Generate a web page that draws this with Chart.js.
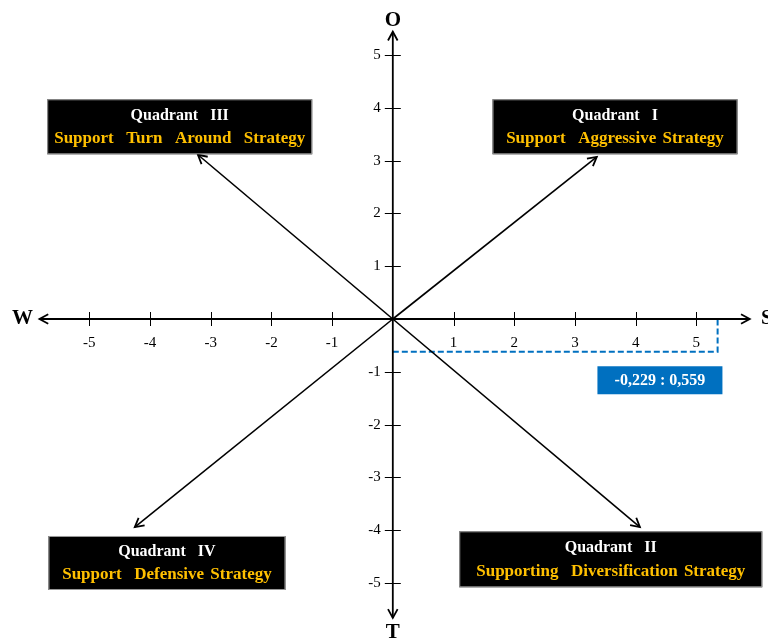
<!DOCTYPE html>
<html>
<head>
<meta charset="utf-8">
<script src="https://cdn.jsdelivr.net/npm/chart.js@4.4.1/dist/chart.umd.min.js"></script>
<style>
  body { margin: 0; background: #fff; }
  canvas { display: block; }
</style>
</head>
<body>
<canvas id="myChart" width="768" height="638"></canvas>
<script>
// axis ticks
const xTickValues = [-5, -4, -3, -2, -1, 1, 2, 3, 4, 5];
const xTickLabels = ['-5', '-4', '-3', '-2', '-1', '1', '2', '3', '4', '5'];
const yTickValues = [-5, -4, -3, -2, -1, 1, 2, 3, 4, 5];
const yTickLabels = ['-5', '-4', '-3', '-2', '-1', '1', '2', '3', '4', '5'];

// axis extents and letters (W S / T O)
const axisX = [-5.82, 5.88];
const axisY = [-5.66, 5.44];
const axisLetters = ['W', 'S', 'T', 'O'];

// diagonal arrows: Quadrant I, III, IV, II
const arrowX = [3.36, -3.21, -4.25, 4.07];
const arrowY = [3.07, 3.11, -3.94, -3.94];

// position marker (dashed)
const markerX = [0, 5.35, 5.35];
const markerY = [-0.62, -0.62, 0];
const markerText = '-0,229 : 0,559';

const quadrantTitles = ['Quadrant  I', 'Quadrant  III', 'Quadrant  IV', 'Quadrant  II'];
const quadrantStrategies = [
  'Support  Aggressive Strategy',
  'Support  Turn  Around  Strategy',
  'Support  Defensive Strategy',
  'Supporting  Diversification Strategy'
];

function line(xs, ys, extra) {
  return Object.assign({
    data: xs.map(function(x, i) { return {x: x, y: ys[i]}; }),
    showLine: true,
    borderColor: '#000',
    borderWidth: 1.6,
    pointRadius: 0,
    fill: false,
    clip: false
  }, extra);
}

const datasets = [
  line(axisX, [0, 0], {arrowStart: true, arrowEnd: true, borderWidth: 1.8}),
  line([0, 0], [axisY[1], axisY[0]], {arrowStart: true, arrowEnd: true, borderWidth: 1.8})
];
arrowX.forEach(function(x, i) {
  datasets.push(line([0, x], [0, arrowY[i]], {arrowEnd: true}));
});
datasets.push(line(markerX, markerY, {borderColor: '#0070C0', borderWidth: 2, borderDash: [6, 3]}));

function arrowHead(c, from, to, color) {
  const a = Math.atan2(to.y - from.y, to.x - from.x);
  const len = 10;
  c.save();
  c.strokeStyle = color;
  c.lineWidth = 1.8;
  c.beginPath();
  c.moveTo(to.x - len * Math.cos(a - 0.5), to.y - len * Math.sin(a - 0.5));
  c.lineTo(to.x, to.y);
  c.lineTo(to.x - len * Math.cos(a + 0.5), to.y - len * Math.sin(a + 0.5));
  c.stroke();
  c.restore();
}

const decorations = {
  id: 'decorations',
  afterDatasetsDraw: function(chart, args, opts) {
    const c = chart.ctx;
    const xs = chart.scales.x, ys = chart.scales.y;

    // arrow heads
    chart.data.datasets.forEach(function(ds, i) {
      const pts = chart.getDatasetMeta(i).data;
      if (ds.arrowEnd) arrowHead(c, pts[pts.length - 2], pts[pts.length - 1], ds.borderColor);
      if (ds.arrowStart) arrowHead(c, pts[1], pts[0], ds.borderColor);
    });

    // tick marks crossing the axes
    const x0 = xs.getPixelForValue(0), y0 = ys.getPixelForValue(0);
    c.save();
    c.strokeStyle = '#000';
    c.lineWidth = 1;
    c.beginPath();
    xTickValues.forEach(function(v) {
      const px = Math.round(xs.getPixelForValue(v)) + 0.5;
      c.moveTo(px, y0 - 7); c.lineTo(px, y0 + 7);
    });
    yTickValues.forEach(function(v) {
      const py = Math.round(ys.getPixelForValue(v)) + 0.5;
      c.moveTo(x0 - 8, py); c.lineTo(x0 + 8, py);
    });
    c.stroke();

    // axis letters
    c.fillStyle = '#000';
    c.font = 'bold 21px "Liberation Serif"';
    c.textAlign = 'center';
    c.textBaseline = 'middle';
    opts.letters.forEach(function(l, i) {
      c.fillText(axisLetters[i], xs.getPixelForValue(l.x), ys.getPixelForValue(l.y));
    });

    // quadrant boxes
    c.wordSpacing = '2px';
    opts.boxes.forEach(function(b, i) {
      const cx = xs.getPixelForValue(b.x), cy = ys.getPixelForValue(b.y);
      c.fillStyle = '#000';
      c.fillRect(cx - b.w / 2, cy - b.h / 2, b.w, b.h);
      c.strokeStyle = '#9a9a9a';
      c.lineWidth = 1;
      c.strokeRect(cx - b.w / 2 + 0.5, cy - b.h / 2 + 0.5, b.w - 1, b.h - 1);
      c.font = 'bold 16px "Liberation Serif"';
      c.fillStyle = '#ffffff';
      c.fillText(quadrantTitles[i], cx, cy - 11);
      c.font = 'bold 17px "Liberation Serif"';
      c.fillStyle = '#FFC000';
      c.fillText(quadrantStrategies[i], cx, cy + 12);
    });

    // marker value label
    const m = opts.marker;
    const mx = xs.getPixelForValue(m.x), my = ys.getPixelForValue(m.y);
    c.wordSpacing = '0px';
    c.fillStyle = '#0070C0';
    c.fillRect(mx - m.w / 2, my - m.h / 2, m.w, m.h);
    c.fillStyle = '#fff';
    c.font = 'bold 16px "Liberation Serif"';
    c.fillText(markerText, mx, my + 1);
    c.restore();
  }
};

const ctx = document.getElementById('myChart').getContext('2d');
const chart = new Chart(ctx, {
  type: 'scatter',
  data: {datasets: datasets},
  options: {
    responsive: false,
    animation: false,
    layout: {padding: 0},
    plugins: {
      legend: {display: false},
      tooltip: {enabled: false},
      decorations: {
        letters: [{x: -6.1, y: 0}, {x: 6.16, y: 0}, {x: 0, y: -5.93}, {x: 0, y: 5.66}],
        boxes: [
          {x: 3.66, y: 3.64, w: 245, h: 55},
          {x: -3.51, y: 3.64, w: 265, h: 55},
          {x: -3.72, y: -4.62, w: 237, h: 54},
          {x: 3.59, y: -4.55, w: 303, h: 56}
        ],
        marker: {x: 4.4, y: -1.16, w: 125, h: 28}
      }
    },
    scales: {
      x: {
        type: 'linear',
        min: -6.47,
        max: 6.18,
        position: {y: 0},
        afterBuildTicks: function(s) { s.ticks = xTickValues.map(function(v) { return {value: v}; }); },
        ticks: {
          autoSkip: false, maxRotation: 0, color: '#000',
          font: {family: '"Liberation Serif"', size: 15}, padding: 15,
          callback: function(v, i) { return xTickLabels[i]; }
        },
        grid: {display: false, drawTicks: false},
        border: {display: false}
      },
      y: {
        type: 'linear',
        min: -5.87,
        max: 5.87,
        position: {x: -0.2},
        afterBuildTicks: function(s) { s.ticks = yTickValues.map(function(v) { return {value: v}; }); },
        ticks: {
          autoSkip: false, color: '#000',
          font: {family: '"Liberation Serif"', size: 15}, padding: 0,
          callback: function(v, i) { return yTickLabels[i]; }
        },
        grid: {display: false, drawTicks: false},
        border: {display: false}
      }
    }
  },
  plugins: [decorations]
});
</script>
</body>
</html>
